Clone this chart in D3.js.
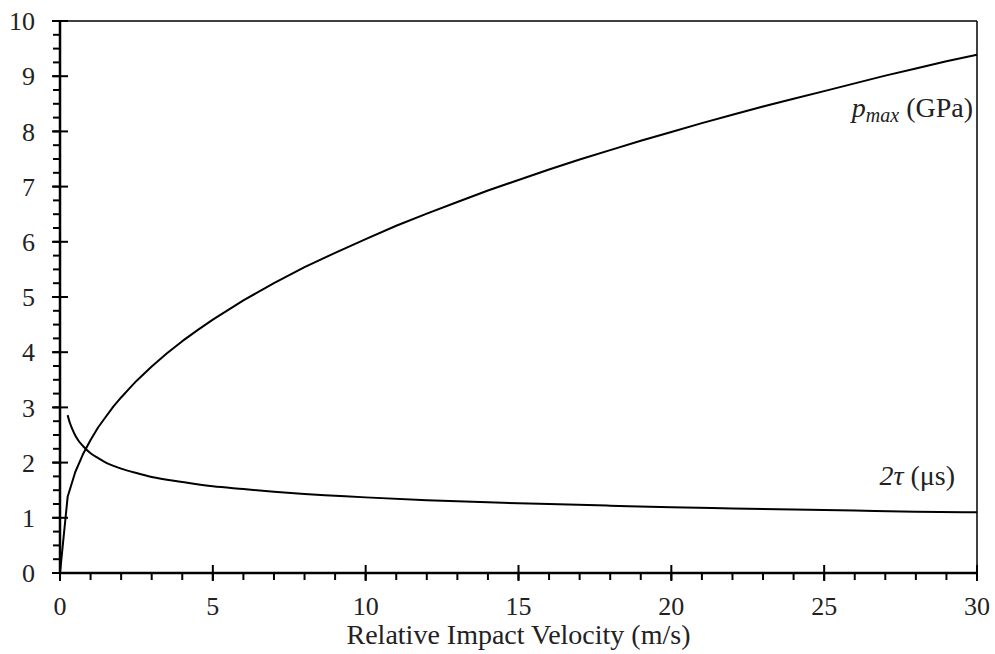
<!DOCTYPE html>
<html><head><meta charset="utf-8">
<script src="https://cdn.jsdelivr.net/npm/d3@7"></script>
<style>html,body{margin:0;padding:0;background:#fff;}svg{display:block;}</style>
</head><body>
<svg id="c" width="995" height="654"></svg>
<script>
// Data
const pVel = [0, 0.25, 0.5, 0.75, 1, 1.25, 1.5, 1.75, 2, 2.25, 2.5, 2.75, 3, 3.5, 4, 4.5, 5, 6, 7, 8, 9, 10, 11, 12, 13, 14, 15, 16, 17, 18, 19, 20, 21, 22, 23, 24, 25, 26, 27, 28, 29, 30];
const pMax = [0, 1.38, 1.83, 2.15, 2.41, 2.64, 2.83, 3.02, 3.18, 3.33, 3.48, 3.61, 3.74, 3.98, 4.20, 4.40, 4.59, 4.94, 5.25, 5.54, 5.80, 6.05, 6.29, 6.51, 6.72, 6.93, 7.12, 7.31, 7.49, 7.66, 7.83, 7.99, 8.15, 8.30, 8.45, 8.59, 8.73, 8.87, 9.01, 9.14, 9.27, 9.39];
const tVel = [0.25, 0.3, 0.35, 0.4, 0.5, 0.6, 0.75, 1, 1.25, 1.5, 1.75, 2, 2.5, 3, 4, 5, 6, 7, 8, 9, 10, 12, 14, 16, 18, 20, 22, 24, 26, 28, 30];
const twoTau = [2.86, 2.76, 2.68, 2.61, 2.49, 2.40, 2.30, 2.17, 2.08, 2.00, 1.94, 1.89, 1.81, 1.74, 1.65, 1.57, 1.52, 1.47, 1.43, 1.40, 1.37, 1.32, 1.28, 1.25, 1.22, 1.19, 1.17, 1.15, 1.13, 1.11, 1.10];
const xMajorTicks = [0, 5, 10, 15, 20, 25, 30];
const xMinorTicks = d3.range(0, 31, 1);
const yMajorTicks = [0, 1, 2, 3, 4, 5, 6, 7, 8, 9, 10];
const yMinorTicks = d3.range(0, 10.01, 0.25);
const xTitle = "Relative Impact Velocity (m/s)";

const svg = d3.select("#c");
const L = 60, R = 977, T = 21, B = 573;
const x = d3.scaleLinear().domain([0, 30]).range([L, R]);
const y = d3.scaleLinear().domain([0, 10]).range([B, T]);
const font = "'Liberation Serif','Times New Roman',serif";

// frame top/right
svg.append("line").attr("x1", L).attr("x2", R).attr("y1", T).attr("y2", T).attr("stroke", "#000").attr("stroke-width", 1.5);
svg.append("line").attr("x1", R).attr("x2", R).attr("y1", T).attr("y2", B).attr("stroke", "#000").attr("stroke-width", 1.5);

// curves
const lineLin = d3.line().x(d => x(d[0])).y(d => y(d[1]));
const lineSmooth = d3.line().x(d => x(d[0])).y(d => y(d[1])).curve(d3.curveMonotoneX);
svg.append("path").datum(pVel.map((v, i) => [v, pMax[i]])).attr("d", lineLin)
  .attr("fill", "none").attr("stroke", "#000").attr("stroke-width", 2).attr("stroke-linejoin", "round");
svg.append("path").datum(tVel.map((v, i) => [v, twoTau[i]])).attr("d", lineSmooth)
  .attr("fill", "none").attr("stroke", "#000").attr("stroke-width", 2);

// axes lines
svg.append("line").attr("x1", L).attr("x2", L).attr("y1", T - 1).attr("y2", B + 1).attr("stroke", "#000").attr("stroke-width", 2.5);
svg.append("line").attr("x1", L - 1).attr("x2", R).attr("y1", B).attr("y2", B).attr("stroke", "#000").attr("stroke-width", 2.5);

// y ticks
svg.append("g").selectAll("line").data(yMinorTicks).join("line")
  .attr("x1", L - 7).attr("x2", L).attr("y1", d => y(d)).attr("y2", d => y(d))
  .attr("stroke", "#000").attr("stroke-width", 2);
svg.append("g").selectAll("line").data(yMajorTicks).join("line")
  .attr("x1", L - 8).attr("x2", L + 8).attr("y1", d => y(d)).attr("y2", d => y(d))
  .attr("stroke", "#000").attr("stroke-width", 2);
svg.append("g").selectAll("text").data(yMajorTicks).join("text")
  .attr("x", 35).attr("y", d => y(d)).attr("dy", "0.35em").attr("text-anchor", "end")
  .attr("font-family", font).attr("font-size", 26).attr("fill", "#222").text(d => d);

// x ticks
svg.append("g").selectAll("line").data(xMinorTicks).join("line")
  .attr("y1", B).attr("y2", B + 7).attr("x1", d => x(d)).attr("x2", d => x(d))
  .attr("stroke", "#000").attr("stroke-width", 2);
svg.append("g").selectAll("line").data(xMajorTicks).join("line")
  .attr("y1", B - 8).attr("y2", B + 8).attr("x1", d => x(d)).attr("x2", d => x(d))
  .attr("stroke", "#000").attr("stroke-width", 2);
svg.append("g").selectAll("text").data(xMajorTicks).join("text")
  .attr("x", d => x(d)).attr("y", 615).attr("text-anchor", "middle")
  .attr("font-family", font).attr("font-size", 26).attr("fill", "#222").text(d => d);

svg.append("text").attr("x", (L + R) / 2).attr("y", 644).attr("text-anchor", "middle")
  .attr("font-family", font).attr("font-size", 28).attr("fill", "#222").text(xTitle);

// annotations
const a1 = svg.append("text").attr("x", 973).attr("y", 117).attr("text-anchor", "end")
  .attr("font-family", font).attr("font-size", 28).attr("fill", "#222");
a1.append("tspan").attr("font-style", "italic").text("p");
a1.append("tspan").attr("font-style", "italic").attr("font-size", 20).attr("dy", 5).text("max");
a1.append("tspan").attr("dy", -5).text(" (GPa)");

const a2 = svg.append("text").attr("x", 955).attr("y", 485).attr("text-anchor", "end")
  .attr("font-family", font).attr("font-size", 28).attr("fill", "#222");
a2.append("tspan").attr("font-style", "italic").text("2τ");
a2.append("tspan").text(" (μs)");
</script>
</body></html>
